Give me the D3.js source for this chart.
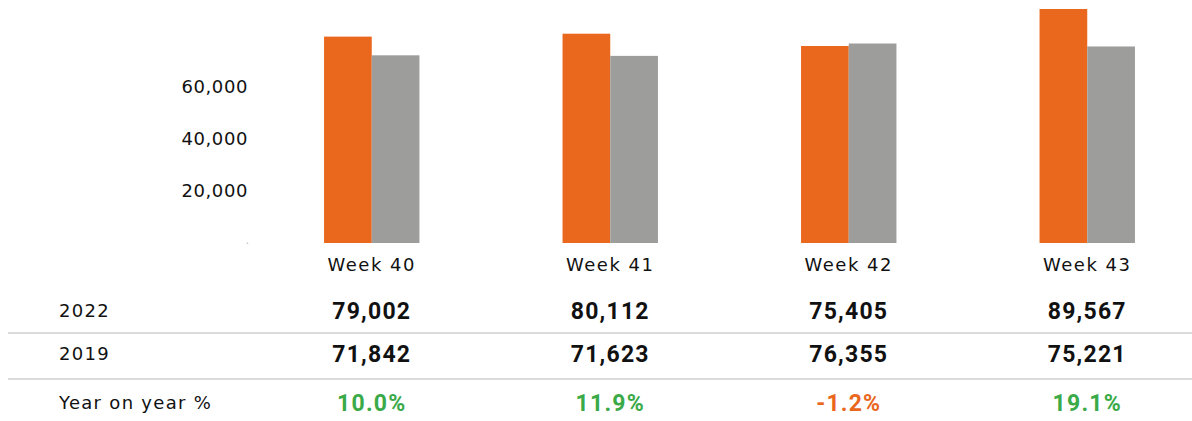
<!DOCTYPE html>
<html>
  <head>
    <meta charset="utf-8" />
    <title>weekly</title>
    <script src="https://cdn.jsdelivr.net/npm/d3@7"></script>
    <style type="text/css">
      body { margin: 0; background: #fff; }
      text { font-family: 'DejaVu Sans', sans-serif; }
      .num { font-family: Roboto, sans-serif; font-weight: bold; }
    </style>
  </head>
  <body>
    <svg id="chart" width="1192" height="421"></svg>
    <script type="text/javascript">
      var weeks = ['Week 40', 'Week 41', 'Week 42', 'Week 43'];
      var v2022 = [79002, 80112, 75405, 89567];
      var v2019 = [71842, 71623, 76355, 75221];
      var yoy = [10.0, 11.9, -1.2, 19.1];
      var yTicks = [0, 20000, 40000, 60000];
      var rowLabels = ['2022', '2019', 'Year on year %'];

      var svg = d3.select('#chart');

      // bars
      var x = d3.scaleBand().domain(weeks).range([252.5, 1206.5]).paddingInner(0.6).paddingOuter(0.3);
      var xs = d3.scaleBand().domain(['2022', '2019']).range([0, x.bandwidth()]);
      var y = d3.scaleLinear().domain([0, 89567]).range([243, 9]);

      var data = weeks.map((w, i) => ({ week: w, vals: [{ k: '2022', v: v2022[i] }, { k: '2019', v: v2019[i] }] }));

      var g = svg.append('g');
      g.selectAll('g')
        .data(data)
        .enter()
        .append('g')
        .attr('transform', (d) => 'translate(' + x(d.week) + ',0)')
        .selectAll('rect')
        .data((d) => d.vals)
        .enter()
        .append('rect')
        .attr('x', (d) => xs(d.k))
        .attr('width', xs.bandwidth())
        .attr('y', (d) => y(d.v))
        .attr('height', (d) => y(0) - y(d.v))
        .attr('fill', (d) => (d.k === '2022' ? '#EA671E' : '#9D9D9C'));

      // y axis, labels only (0 is drawn as a speck like the original)
      var ax = svg.append('g')
        .attr('transform', 'translate(248,0)')
        .call(d3.axisLeft(y).tickValues(yTicks).tickSize(0).tickPadding(0).tickFormat(d3.format(',')));
      ax.select('.domain').remove();
      ax.selectAll('text')
        .attr('font-family', "'DejaVu Sans', sans-serif")
        .attr('font-size', (d) => (d === 0 ? 2 : 18))
        .attr('letter-spacing', (d) => (d === 0 ? 0 : 0.6))
        .attr('fill', '#111');

      // x axis labels
      var xa = svg.append('g')
        .attr('transform', 'translate(0,258)')
        .call(d3.axisBottom(x).tickSize(0).tickPadding(0));
      xa.select('.domain').remove();
      xa.selectAll('text')
        .attr('font-family', "'DejaVu Sans', sans-serif")
        .attr('font-size', 18)
        .attr('letter-spacing', 1.5)
        .attr('fill', '#111');

      // table
      var rowY = [311, 354, 403];
      svg.selectAll('.rowlab')
        .data(rowLabels)
        .enter()
        .append('text')
        .attr('x', 59)
        .attr('y', (d, i) => rowY[i])
        .attr('dy', '0.35em')
        .attr('font-size', 18)
        .attr('letter-spacing', 1.3)
        .attr('fill', '#111')
        .text((d) => d);

      [333, 379].forEach(function (ly) {
        svg.append('line')
          .attr('x1', 8).attr('x2', 1192)
          .attr('y1', ly).attr('y2', ly)
          .attr('stroke', '#cfcfcf')
          .attr('stroke-width', 1.5);
      });

      var fmt = d3.format(',');
      var rows = [
        v2022.map((v) => ({ t: fmt(v), c: '#111' })),
        v2019.map((v) => ({ t: fmt(v), c: '#111' })),
        yoy.map((v) => ({ t: v.toFixed(1) + '%', c: v < 0 ? '#EA671E' : '#3AAA48' }))
      ];
      rows.forEach(function (r, ri) {
        svg.append('g')
          .selectAll('text')
          .data(r)
          .enter()
          .append('text')
          .attr('class', 'num')
          .attr('x', (d, i) => x(weeks[i]) + x.bandwidth() / 2)
          .attr('y', rowY[ri])
          .attr('dy', '0.35em')
          .attr('text-anchor', 'middle')
          .attr('font-size', 23)
          .attr('letter-spacing', 1.2)
          .attr('fill', (d) => d.c)
          .text((d) => d.t);
      });
    </script>
  </body>
</html>
